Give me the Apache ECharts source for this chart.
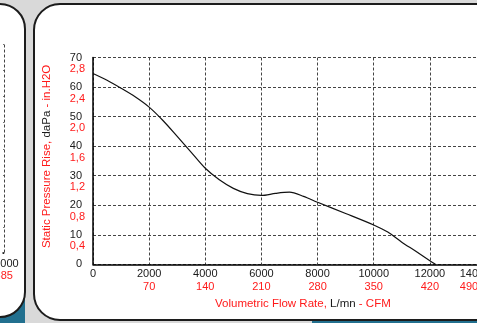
<!DOCTYPE html>
<html>
<head>
<meta charset="utf-8">
<script src="https://cdn.jsdelivr.net/npm/echarts@6/dist/echarts.min.js"></script>
<style>
html,body{margin:0;padding:0;width:477px;height:323px;overflow:hidden;background:#d9d9d9;}
.box{position:absolute;box-sizing:border-box;}
#teal1{left:0;top:297px;width:25px;height:30px;background:#22708f;}
#teal2{left:312px;top:321px;width:200px;height:5px;background:#22708f;}
#lp{left:-300px;top:3px;width:325.5px;height:314.5px;border:2.6px solid #1c1c1c;border-radius:26px;background:#fff;}
#mp{left:33px;top:3px;width:600px;height:318px;border:2.6px solid #1c1c1c;border-radius:27px;background:#fff;}
#chart{position:absolute;left:0;top:0;width:600px;height:323px;}
</style>
</head>
<body>
<div class="box" id="teal1"></div>
<div class="box" id="teal2"></div>
<div class="box" id="lp"></div>
<div class="box" id="mp"></div>
<div id="chart"></div>
<script>
// Main chart data: static pressure (daPa) vs volumetric flow rate (L/mn)
const flowData     = [0, 500, 1000, 1500, 2000, 2500, 3000, 3500, 4000, 4500, 5000, 5500, 6000, 6500, 7000, 7500, 8000, 9000, 10000, 10500, 11000, 11500, 12000, 12200];
const pressureData = [64.6, 62.3, 59.6, 56.7, 53.2, 48.6, 43.3, 37.9, 32.5, 28.6, 25.7, 23.9, 23.3, 24.0, 24.4, 23.0, 21.0, 17.2, 13.3, 10.9, 7.5, 4.4, 1.2, 0];

// Tick labels
const flowTicks     = [0, 2000, 4000, 6000, 8000, 10000, 12000, 14000];
const cfmLabels     = ['', '70', '140', '210', '280', '350', '420', '490'];
const pressureTicks = [0, 10, 20, 30, 40, 50, 60, 70];
const inH2OLabels   = ['', '0,4', '0,8', '1,2', '1,6', '2,0', '2,4', '2,8'];

// Neighbouring (left) chart fragment: only its last x tick is visible
const leftFlowTicks = [11000];
const leftCfmLabels = ['385'];

const RED = '#ff1a1a';
const BLK = '#1a1a1a';
const FONT = 'Liberation Sans, Arial, sans-serif';

const chart = echarts.init(document.getElementById('chart'), null, {renderer: 'canvas'});

const dashed = {show: true, lineStyle: {color: '#444', width: 1, type: [3, 2]}};

const option = {
  animation: false,
  backgroundColor: 'transparent',
  title: {
    left: 210, top: 293,
    text: '{r|Volumetric Flow Rate, }{k|L/mn}{r| - CFM}',
    textStyle: {
      fontWeight: 'normal',
      rich: {
        r: {color: RED, fontSize: 11.5, fontFamily: FONT, fontWeight: 'normal'},
        k: {color: BLK, fontSize: 11.5, fontFamily: FONT, fontWeight: 'normal'}
      }
    }
  },
  grid: [
    {left: 93, top: 57.5, width: 393, height: 206.8},
    {left: 0, top: 44.5, width: 3, height: 208.5}
  ],
  xAxis: [
    {
      type: 'value', gridIndex: 0,
      min: flowTicks[0], max: flowTicks[flowTicks.length - 1], interval: 2000,
      axisLine: {show: true, onZero: false, lineStyle: {color: '#000', width: 1.5}},
      axisTick: {show: false},
      splitLine: dashed,
      axisLabel: {
        margin: 3,
        formatter: function (v) {
          const i = flowTicks.indexOf(v);
          if (i < 0) return '';
          if (!cfmLabels[i]) return '{a|' + v + '}';
          if (i === flowTicks.length - 1) {
            return '{a|' + v + '}{s1|}\n{b|' + cfmLabels[i] + '}{s2|}';
          }
          return '{a|' + v + '}\n{b|' + cfmLabels[i] + '}';
        },
        rich: {
          a: {color: BLK, fontSize: 11, fontFamily: FONT, lineHeight: 13},
          b: {color: RED, fontSize: 11, fontFamily: FONT, lineHeight: 13},
          s1: {width: 22, lineHeight: 13},
          s2: {width: 34, lineHeight: 13}
        }
      }
    },
    {
      type: 'value', gridIndex: 1,
      min: 10900, max: leftFlowTicks[0], interval: 100,
      axisLine: {show: true, onZero: false, lineStyle: {color: '#000', width: 1.5}},
      axisTick: {show: false},
      splitLine: {show: true, showMinLine: false, lineStyle: {color: '#444', width: 1, type: [3, 2]}},
      axisLabel: {
        margin: 5,
        showMinLabel: false,
        formatter: function (v) {
          const i = leftFlowTicks.indexOf(v);
          if (i < 0) return '';
          return '{a|' + v + '}\n{b|' + leftCfmLabels[i] + '}';
        },
        rich: {
          a: {color: BLK, fontSize: 11, fontFamily: FONT, lineHeight: 12},
          b: {color: RED, fontSize: 11, fontFamily: FONT, lineHeight: 12}
        }
      }
    }
  ],
  yAxis: [
    {
      type: 'value', gridIndex: 0,
      min: 0, max: 70, interval: 10,
      axisLine: {show: true, onZero: false, lineStyle: {color: '#000', width: 1.5}},
      axisTick: {show: false},
      splitLine: dashed,
      axisLabel: {
        margin: 11, color: BLK, fontSize: 11, fontFamily: FONT,
        formatter: function (v) { return pressureTicks.indexOf(v) >= 0 ? String(v) : ''; }
      },
      name: '{r|Static Pressure Rise, }{k|daPa}{r| - in.H2O}',
      nameLocation: 'middle',
      nameGap: 40,
      nameTextStyle: {
        padding: [0, 0, 0, 9],
        rich: {
          r: {color: RED, fontSize: 11.5, fontFamily: FONT},
          k: {color: BLK, fontSize: 11.5, fontFamily: FONT}
        }
      }
    },
    {
      type: 'value', gridIndex: 0, position: 'left',
      min: 0, max: 70, interval: 10,
      axisLine: {show: false},
      axisTick: {show: false},
      splitLine: {show: false},
      axisLabel: {
        margin: 8, color: RED, fontSize: 11, fontFamily: FONT,
        verticalAlign: 'top', lineHeight: 23,
        formatter: function (v) {
          const i = pressureTicks.indexOf(v);
          return i >= 0 ? inH2OLabels[i] : '';
        }
      }
    },
    {
      type: 'value', gridIndex: 1,
      min: 0, max: 80, interval: 10,
      axisLine: {show: false},
      axisTick: {show: false},
      axisLabel: {show: false},
      splitLine: dashed
    }
  ],
  series: [
    {
      type: 'line',
      xAxisIndex: 0, yAxisIndex: 0,
      data: flowData.map((x, i) => [x, pressureData[i]]),
      smooth: 0.3,
      showSymbol: false,
      lineStyle: {color: '#111', width: 1.2},
      clip: false
    }
  ]
};
chart.setOption(option);
</script>
</body>
</html>
